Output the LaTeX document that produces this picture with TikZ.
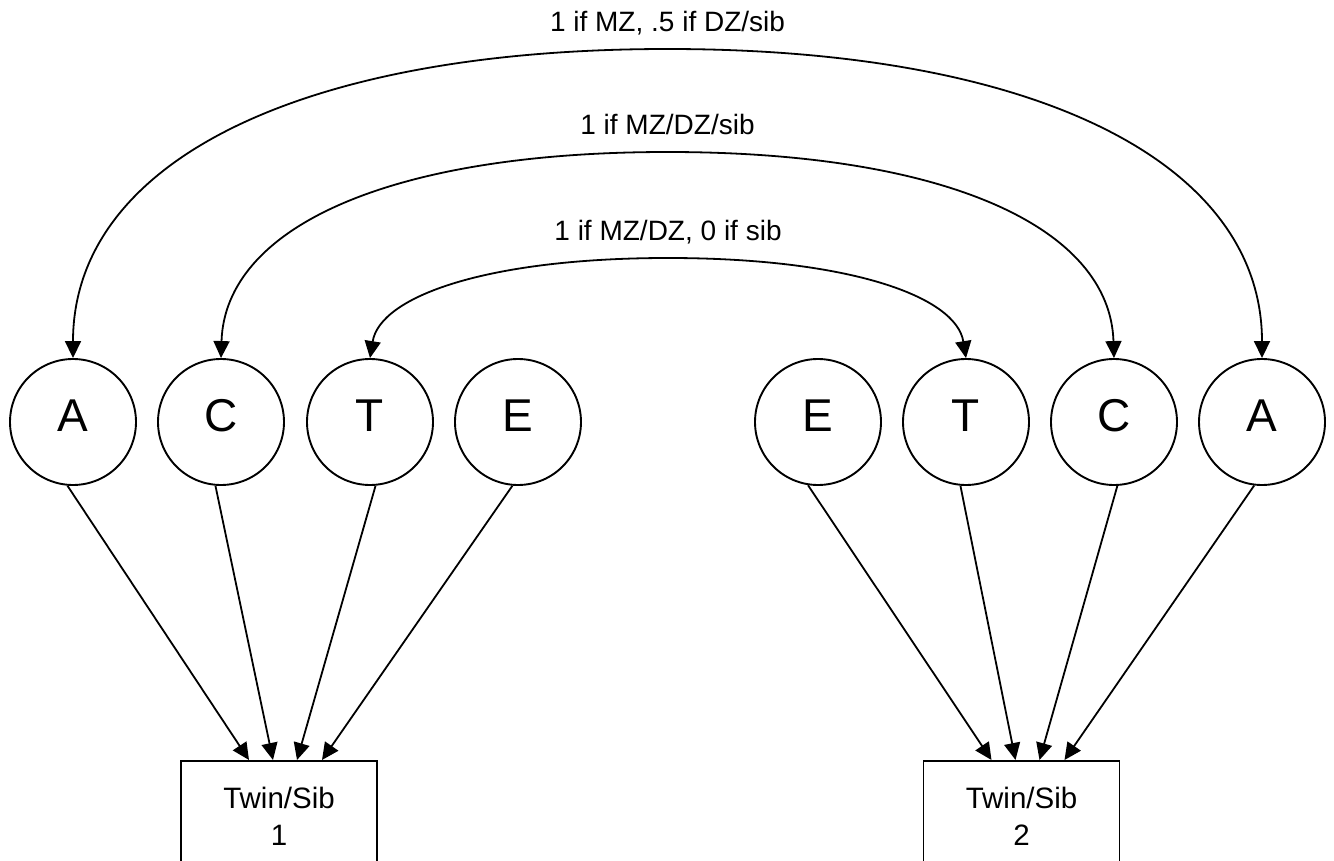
\documentclass[tikz,border=0pt]{standalone}
\usepackage{fontspec}
\setmainfont{Liberation Sans}
\usetikzlibrary{arrows.meta}
\begin{document}
\begin{tikzpicture}[x=1pt,y=-1pt,
  every node/.style={inner sep=0pt},
  latent/.style={circle,draw,line width=1.9pt,minimum size=126pt,
    text height=33pt,text depth=14pt,font=\fontsize{46}{50}\selectfont},
  observed/.style={rectangle,draw,line width=1.9pt,minimum width=196pt,
    minimum height=150pt,anchor=north},
  obstext/.style={align=center,anchor=north,font=\fontsize{29.5}{37}\selectfont},
  link/.style={line width=1.8pt,-{Triangle[length=17pt,width=16pt]}},
  cov/.style={line width=1.8pt,{Triangle[length=17pt,width=16pt]}-{Triangle[length=17pt,width=16pt]}},
  covlabel/.style={anchor=base,font=\fontsize{28}{32}\selectfont}
]
\clip (0,0) rectangle (1334,861);

% latent variables, twin/sib 1
\node[latent] (A1) at (73,422)  {A};
\node[latent] (C1) at (221,422) {C};
\node[latent] (T1) at (370,422) {T};
\node[latent] (E1) at (518,422) {E};
% latent variables, twin/sib 2
\node[latent] (E2) at (818,422)  {E};
\node[latent] (T2) at (966,422)  {T};
\node[latent] (C2) at (1114,422) {C};
\node[latent] (A2) at (1262,422) {A};

% observed phenotypes
\node[observed] (B1) at (279,760) {};
\node[obstext] (B1t) at (279,787) {Twin/Sib\\1};
\node[observed] (B2) at (1021.5,760) {};
\node[obstext] (B2t) at (1021.5,787) {Twin/Sib\\2};

% paths from latent factors to phenotypes
\draw[link] (A1.-95) -- ([xshift=-30pt]B1.north);
\draw[link] (C1.-95) -- ([xshift=-6pt]B1.north);
\draw[link] (T1.-85) -- ([xshift=18pt]B1.north);
\draw[link] (E1.-95) -- ([xshift=43pt]B1.north);
\draw[link] (E2.-99) -- ([xshift=-30pt]B2.north);
\draw[link] (T2.-95) -- ([xshift=-6pt]B2.north);
\draw[link] (C2.-87) -- ([xshift=18pt]B2.north);
\draw[link] (A2.-97) -- ([xshift=43pt]B2.north);

% covariances between the twins' factors
\coordinate (topA) at (667.5,49);
\coordinate (topC) at (667.5,152);
\coordinate (topT) at (668,258);

\draw[cov] (A1.north) .. controls +(0,-195) and +(-370,0) .. (topA)
                      .. controls +(370,0) and +(0,-195) .. (A2.north);
\draw[cov] (C1.north) .. controls +(4,-130) and +(-280,0) .. (topC)
                      .. controls +(280,0) and +(-4,-130) .. (C2.north);
\draw[cov] (T1.north) .. controls +(10,-62) and +(-180,0) .. (topT)
                      .. controls +(180,0) and +(-10,-62) .. (T2.north);

\node[covlabel] (LA) at ([yshift=17pt]topA) {1 if MZ, .5 if DZ/sib};
\node[covlabel] (LC) at ([yshift=17pt]topC) {1 if MZ/DZ/sib};
\node[covlabel] (LT) at ([yshift=17pt]topT) {1 if MZ/DZ, 0 if sib};
\end{tikzpicture}
\end{document}
